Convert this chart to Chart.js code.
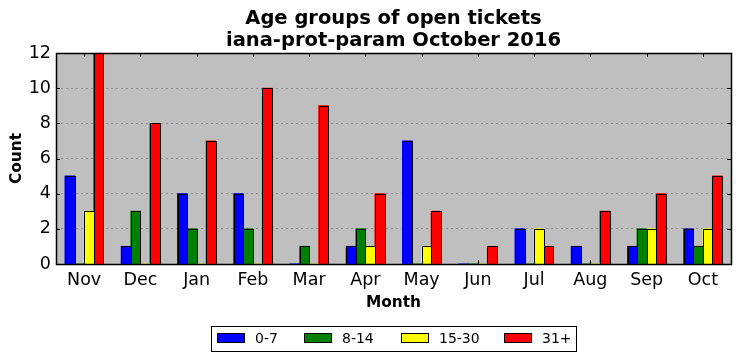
<!DOCTYPE html>
<html>
<head>
<meta charset="utf-8">
<script src="https://cdn.jsdelivr.net/npm/chart.js@4"></script>
<style>
  html, body { margin:0; padding:0; background:#fff; }
  #wrap { width:740px; height:361px; position:relative; }
</style>
</head>
<body>
<div id="wrap"><canvas id="c" width="740" height="361"></canvas></div>
<script>
// data
const months = ['Nov','Dec','Jan','Feb','Mar','Apr','May','Jun','Jul','Aug','Sep','Oct'];
const age0to7   = [5,1,4,4,0,1,7,0,2,1,1,2];
const age8to14  = [0,3,2,2,1,2,0,0,0,0,2,1];
const age15to30 = [3,0,0,0,0,1,1,0,2,0,2,2];
const age31plus = [12,8,7,10,9,4,3,1,1,3,4,5];
const seriesLabels = ['0-7','8-14','15-30','31+'];
const seriesColors = ['#0000ff','#008000','#ffff00','#ff0000'];
const yTicks = [0,2,4,6,8,10,12];

const FONT = '"DejaVu Sans", sans-serif';
Chart.defaults.font.family = FONT;
Chart.defaults.color = '#000';

// silver plot background, crisp bar edges, frame, inward ticks, boxed legend
const frame = {
  id:'frame',
  beforeDraw(chart){
    const {ctx, chartArea:a} = chart;
    ctx.save();
    ctx.fillStyle = '#bfbfbf';
    ctx.fillRect(a.left, a.top, a.right-a.left, a.bottom-a.top);
    ctx.restore();
  },
  afterDatasetsDraw(chart){
    const ctx = chart.ctx;
    ctx.save();
    ctx.strokeStyle = '#000';
    ctx.lineWidth = 1;
    chart.data.datasets.forEach((ds,i)=>{
      chart.getDatasetMeta(i).data.forEach((bar,j)=>{
        if(!ds.data[j]) return;
        const {x, y, base, width} = bar.getProps(['x','y','base','width'], true);
        const l = Math.round(x - width/2)+0.5, r = Math.round(x + width/2)+0.5;
        const t = Math.round(y)+0.5, b = Math.round(base)+0.5;
        ctx.strokeRect(l, t, r-l, b-t);
      });
    });
    ctx.restore();
  },
  afterDraw(chart){
    const {ctx, chartArea:a} = chart;
    const x = chart.scales.x, y = chart.scales.y;
    ctx.save();
    ctx.strokeStyle = '#000';
    ctx.lineWidth = 1;
    ctx.beginPath();
    x.ticks.forEach((t,i)=>{
      const px = Math.round(x.getPixelForTick(i))+0.5;
      ctx.moveTo(px, a.bottom); ctx.lineTo(px, a.bottom-4);
      ctx.moveTo(px, a.top); ctx.lineTo(px, a.top+4);
    });
    y.ticks.forEach((t,i)=>{
      const py = Math.round(y.getPixelForTick(i))+0.5;
      ctx.moveTo(a.left, py); ctx.lineTo(a.left+4, py);
      ctx.moveTo(a.right, py); ctx.lineTo(a.right-4, py);
    });
    ctx.stroke();
    ctx.lineWidth = 1.5;
    ctx.strokeRect(Math.round(a.left)+0.5, Math.round(a.top)+0.5, Math.round(a.right-a.left), Math.round(a.bottom-a.top));

    // legend
    ctx.lineWidth = 1;
    const bx = 211.5, by = 326.5, bw = 365, bh = 25;
    ctx.fillStyle = '#fff';
    ctx.fillRect(bx, by, bw, bh);
    ctx.strokeRect(bx, by, bw, bh);
    const itemX = [217, 304, 401, 504];
    ctx.font = '14px ' + FONT;
    ctx.textBaseline = 'middle';
    chart.data.datasets.forEach((ds,i)=>{
      const sx = itemX[i];
      ctx.fillStyle = ds.backgroundColor;
      ctx.fillRect(sx+0.5, 333.5, 27, 9);
      ctx.strokeRect(sx+0.5, 333.5, 27, 9);
      ctx.fillStyle = '#000';
      ctx.fillText(ds.label, sx+38, 339);
    });
    ctx.restore();
  }
};

const datasets = [age0to7, age8to14, age15to30, age31plus].map((d,i)=>({
  label: seriesLabels[i],
  data: d,
  backgroundColor: seriesColors[i],
  borderWidth: 0,
  inflateAmount: 0.5,
  categoryPercentage: 0.68,
  barPercentage: 1.0
}));

new Chart(document.getElementById('c'), {
  type: 'bar',
  data: { labels: months, datasets },
  plugins: [frame],
  options: {
    responsive: false,
    animation: false,
    layout: { padding: { left: 0, right: 9, top: 0, bottom: 49 } },
    plugins: {
      legend: { display: false },
      tooltip: { enabled: false },
      title: {
        display: true,
        fullSize: false,
        text: ['Age groups of open tickets', 'iana-prot-param October 2016'],
        font: { size: 19.5, weight: 'bold', family: FONT, lineHeight: 1.13 },
        color: '#000',
        padding: { top: 8, bottom: 1 }
      }
    },
    scales: {
      x: {
        grid: { display: false, drawTicks: false },
        border: { display: false },
        ticks: { font: { size: 17.5 }, padding: 6, maxRotation: 0 },
        title: { display: true, text: 'Month', font: { size: 15.4, weight: 'bold' }, padding: { top: 0, bottom: 0 } },
        afterFit(s){ s.height = 48; }
      },
      y: {
        min: 0, max: 12,
        afterBuildTicks(s){ s.ticks = yTicks.map(v=>({value:v})); },
        grid: { color: '#8c8c8c', lineWidth: 1, drawTicks: false },
        border: { display: false, dash: [2,3] },
        ticks: { font: { size: 17.5 }, padding: 5 },
        title: { display: true, text: 'Count', font: { size: 15.4, weight: 'bold' }, padding: { top: 8, bottom: 0 } },
        afterFit(s){ s.width = 56; }
      }
    }
  }
});
</script>
</body>
</html>
